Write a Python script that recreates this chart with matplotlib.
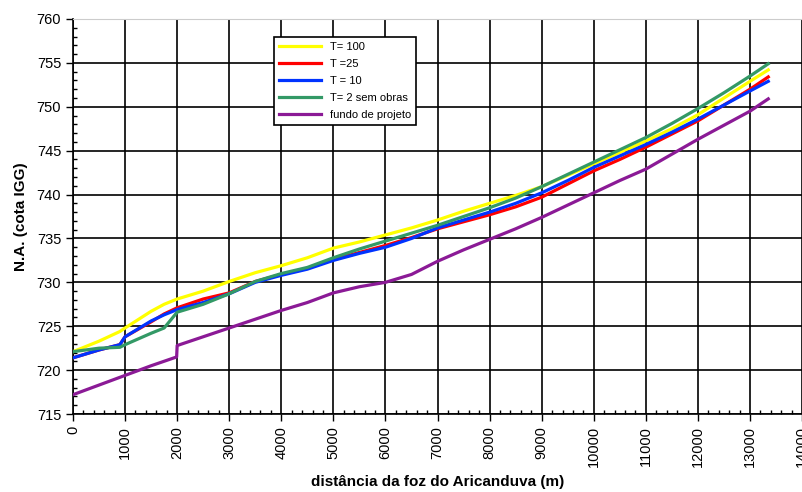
import matplotlib
matplotlib.use('Agg')
import matplotlib.pyplot as plt
from matplotlib.ticker import MultipleLocator

plt.rcParams['font.family'] = ['Liberation Sans', 'DejaVu Sans']

# ── Data ──────────────────────────────────────────────────────────────────────
x_na = [0, 500, 900, 1000, 1500, 1750, 2000, 2500, 3000, 3500, 4000, 4500,
        5000, 5500, 6000, 6500, 7000, 7500, 8000, 8500, 9000, 9500, 10000,
        10500, 11000, 11500, 12000, 12500, 13000, 13350]

t100 = [722.1, 723.3, 724.4, 724.8, 726.7, 727.5, 728.1, 729.0, 730.1, 731.1,
        731.9, 732.8, 733.9, 734.6, 735.4, 736.2, 737.1, 738.1, 739.0, 739.9,
        740.9, 742.2, 743.5, 744.8, 746.1, 747.5, 749.1, 751.0, 752.9, 754.2]
t25 = [721.4, 722.3, 722.9, 723.8, 725.5, 726.4, 727.1, 728.1, 728.8, 730.1,
       730.9, 731.6, 732.6, 733.4, 734.2, 735.1, 736.1, 736.9, 737.7, 738.6,
       739.7, 741.2, 742.7, 744.0, 745.4, 746.9, 748.4, 750.2, 752.0, 753.4]
t10 = [721.4, 722.3, 722.9, 723.8, 725.6, 726.3, 726.9, 727.7, 728.7, 730.0,
       730.8, 731.5, 732.5, 733.3, 734.0, 735.0, 736.2, 737.1, 738.0, 739.0,
       740.2, 741.6, 743.1, 744.4, 745.7, 747.1, 748.6, 750.2, 751.8, 752.9]
t2_sem_obras = [722.1, 722.5, 722.6, 722.9, 724.2, 724.8, 726.6, 727.5, 728.7,
                730.1, 731.0, 731.7, 732.8, 733.8, 734.7, 735.6, 736.5, 737.5,
                738.5, 739.6, 740.9, 742.3, 743.7, 745.1, 746.5, 748.1, 749.8,
                751.6, 753.5, 754.9]

x_fundo = [0, 500, 1000, 1500, 1990, 2000, 2500, 3000, 3500, 4000, 4500, 5000,
           5500, 6000, 6500, 7000, 7500, 8000, 8500, 9000, 9500, 10000, 10500,
           11000, 11500, 12000, 12500, 13000, 13350]
fundo = [717.2, 718.3, 719.4, 720.5, 721.5, 722.8, 723.8, 724.8, 725.8, 726.8,
         727.7, 728.8, 729.5, 730.0, 730.9, 732.4, 733.7, 734.9, 736.1, 737.4,
         738.8, 740.2, 741.6, 742.9, 744.6, 746.3, 747.9, 749.5, 750.9]

series = [
    ('T= 100', x_na, t100, '#FFFF00'),
    ('T =25', x_na, t25, '#FF0000'),
    ('T = 10', x_na, t10, '#0033FF'),
    ('T= 2 sem obras', x_na, t2_sem_obras, '#339966'),
    ('fundo de projeto', x_fundo, fundo, '#8B1A96'),
]

# ── Figure ────────────────────────────────────────────────────────────────────
fig = plt.figure(figsize=(8.03, 4.92), dpi=100)
ax = fig.add_axes([0.0909, 0.1585, 0.908, 0.8029])

for label, xs, ys, color in series:
    ax.plot(xs, ys, color=color, lw=2.3, label=label, zorder=3)

ax.set_xlim(0, 14000)
ax.set_ylim(715, 760)
ax.xaxis.set_major_locator(MultipleLocator(1000))
ax.xaxis.set_minor_locator(MultipleLocator(200))
ax.yaxis.set_major_locator(MultipleLocator(5))
ax.yaxis.set_minor_locator(MultipleLocator(1))
ax.grid(which='major', color='black', lw=1.2, zorder=1)
ax.tick_params(which='major', direction='out', length=5, width=1, labelsize=10.5)
ax.tick_params(which='minor', direction='in', length=3, width=1)
ax.tick_params(axis='x', labelrotation=90)

for s in ['left', 'bottom']:
    ax.spines[s].set_color('black')
    ax.spines[s].set_linewidth(1.2)
ax.spines['top'].set_color('#cccccc')
ax.spines['right'].set_visible(False)

ax.set_xlabel('distância da foz do Aricanduva (m)', fontsize=11,
              fontweight='bold')
ax.xaxis.set_label_coords(0.5, -0.155)
ax.set_ylabel('N.A. (cota IGG)', fontsize=11, fontweight='bold', labelpad=6)

leg = ax.legend(loc='upper left', bbox_to_anchor=(0.268, 0.968), fontsize=8,
                frameon=True, fancybox=False, edgecolor='black',
                framealpha=1, handlelength=3.8, labelspacing=0.62,
                borderpad=0.45)
leg.get_frame().set_linewidth(1.2)

plt.savefig('out.png', dpi=100)
plt.close()
